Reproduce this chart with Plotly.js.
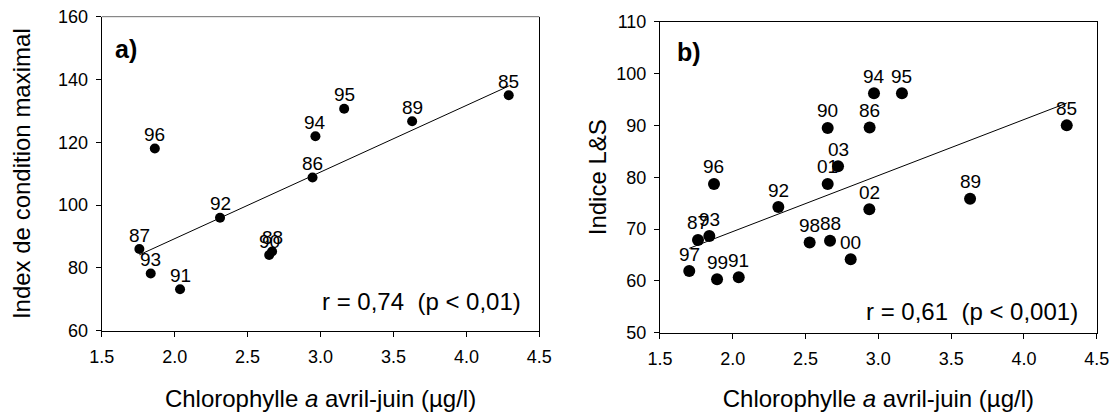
<!DOCTYPE html>
<html>
<head>
<meta charset="utf-8">
<script src="https://cdn.plot.ly/plotly-3.0.1.min.js"></script>
<style>
  html, body { margin: 0; padding: 0; background: #fff; }
  #chart { width: 1119px; height: 412px; }
</style>
</head>
<body>
<div id="chart"></div>
<script>
// Panel a) : maximal condition index against April-June chlorophyll a
const yearsA = ['85', '86', '87', '88', '89', '90', '91', '92', '93', '94', '95', '96'];
const chlA = [4.29, 2.945, 1.758, 2.668, 3.628, 2.648, 2.037, 2.311, 1.836, 2.965, 3.162, 1.864];
const conditionA = [135, 108.8, 86, 85.2, 126.7, 84.1, 73.2, 96, 78.2, 121.9, 130.7, 118];

// Panel b) : L&S index against April-June chlorophyll a
const yearsB = ['85', '86', '87', '88', '89', '90', '91', '92', '93', '94', '95', '96', '97', '98', '99', '00', '01', '02', '03'];
const chlB = [4.294, 2.94, 1.761, 2.668, 3.63, 2.652, 2.041, 2.313, 1.839, 2.97, 3.162, 1.871, 1.701, 2.528, 1.892, 2.81, 2.652, 2.938, 2.723];
const indexB = [90.0, 89.6, 67.9, 67.75, 75.85, 89.5, 60.7, 74.25, 68.65, 96.2, 96.2, 78.7, 61.9, 67.4, 60.3, 64.15, 78.7, 73.8, 82.1];

// Axis ranges and tick values
const xTicks = [1.5, 2.0, 2.5, 3.0, 3.5, 4.0, 4.5];
const yTicksA = [60, 80, 100, 120, 140, 160];
const yTicksB = [50, 60, 70, 80, 90, 100, 110];

const xTitle = 'Chlorophylle <i>a</i> avril-juin (µg/l)';
const yTitleA = 'Index de condition maximal';
const yTitleB = 'Indice L&S';
const statA = 'r = 0,74 \u00a0(p < 0,01)';
const statB = 'r = 0,61 \u00a0(p < 0,001)';

const FONT = 'Liberation Sans, Arial, Helvetica, sans-serif';

// Ordinary least-squares line spanning the observed x range
function fitLine(xs, ys) {
  const n = xs.length;
  const mx = xs.reduce((a, b) => a + b, 0) / n;
  const my = ys.reduce((a, b) => a + b, 0) / n;
  let sxy = 0, sxx = 0;
  for (let i = 0; i < n; i++) {
    sxy += (xs[i] - mx) * (ys[i] - my);
    sxx += (xs[i] - mx) * (xs[i] - mx);
  }
  const slope = sxy / sxx;
  const x0 = Math.min(...xs), x1 = Math.max(...xs);
  return { x: [x0, x1], y: [my + slope * (x0 - mx), my + slope * (x1 - mx)] };
}

const fitA = fitLine(chlA, conditionA);
const fitB = fitLine(chlB, indexB);

const traces = [
  { x: fitA.x, y: fitA.y, xaxis: 'x', yaxis: 'y', mode: 'lines',
    line: { color: 'black', width: 1 }, hoverinfo: 'skip' },
  { x: chlA, y: conditionA, xaxis: 'x', yaxis: 'y', mode: 'markers',
    marker: { color: 'black', size: 10 } },
  { x: fitB.x, y: fitB.y, xaxis: 'x2', yaxis: 'y2', mode: 'lines',
    line: { color: 'black', width: 1 }, hoverinfo: 'skip' },
  { x: chlB, y: indexB, xaxis: 'x2', yaxis: 'y2', mode: 'markers',
    marker: { color: 'black', size: 12 } }
];

// Year labels sitting just above each point
function yearLabels(xs, ys, labels, xr, yr, shift) {
  return labels.map((t, i) => ({
    text: t, x: xs[i], y: ys[i], xref: xr, yref: yr,
    xanchor: 'center', yanchor: 'middle', yshift: shift, showarrow: false,
    font: { family: FONT, size: 19, color: 'black' }
  }));
}

const baseAxis = {
  ticks: 'outside', ticklen: 5, tickwidth: 1, tickcolor: 'black',
  showline: true, linecolor: 'black', linewidth: 1,
  showgrid: false, zeroline: false, automargin: false,
  tickfont: { family: FONT, size: 18, color: 'black' }
};

const layout = {
  width: 1119, height: 412,
  margin: { l: 0, r: 0, t: 0, b: 0 },
  showlegend: false,
  paper_bgcolor: 'white', plot_bgcolor: 'white',
  font: { family: FONT, color: 'black' },
  xaxis: Object.assign({}, baseAxis, {
    domain: [0.0909, 0.4820], anchor: 'y', range: [1.5, 4.5],
    tickvals: xTicks, tickformat: '.1f', ticklabelstandoff: 5,
    title: { text: xTitle, font: { family: FONT, size: 24, color: 'black' }, standoff: 25 }
  }),
  yaxis: Object.assign({}, baseAxis, {
    domain: [0.1973, 0.9595], anchor: 'x', range: [60, 160],
    tickvals: yTicksA, mirror: true, ticklabelstandoff: 4,
    title: { text: yTitleA, font: { family: FONT, size: 24, color: 'black' }, standoff: 20 }
  }),
  xaxis2: Object.assign({}, baseAxis, {
    domain: [0.5898, 0.9801], anchor: 'y2', range: [1.5, 4.5],
    tickvals: xTicks, tickformat: '.1f', mirror: true, ticklabelstandoff: 5,
    title: { text: xTitle, font: { family: FONT, size: 24, color: 'black' }, standoff: 25 }
  }),
  yaxis2: Object.assign({}, baseAxis, {
    domain: [0.1925, 0.9473], anchor: 'x2', range: [50, 110],
    tickvals: yTicksB, mirror: true, ticklabelstandoff: 4,
    title: { text: yTitleB, font: { family: FONT, size: 24, color: 'black' }, standoff: 2 }
  }),
  shapes: [
    // grey upper frame of panel a)
    { type: 'line', xref: 'x domain', yref: 'y domain', x0: 0, x1: 1, y0: 1, y1: 1,
      line: { color: '#6e6e6e', width: 1 } }
  ],
  annotations: [
    { text: '<b>a)</b>', xref: 'x domain', yref: 'y domain', x: 0.026, y: 0.897,
      xanchor: 'left', yanchor: 'middle', showarrow: false,
      font: { family: FONT, size: 25, color: 'black' } },
    { text: '<b>b)</b>', xref: 'x2 domain', yref: 'y2 domain', x: 0.034, y: 0.9035,
      xanchor: 'left', yanchor: 'middle', showarrow: false,
      font: { family: FONT, size: 25, color: 'black' } },
    { text: statA, xref: 'x domain', yref: 'y domain', x: 0.963, y: 0.0946,
      xanchor: 'right', yanchor: 'middle', showarrow: false,
      font: { family: FONT, size: 24, color: 'black' } },
    { text: statB, xref: 'x2 domain', yref: 'y2 domain', x: 0.9618, y: 0.0675,
      xanchor: 'right', yanchor: 'middle', showarrow: false,
      font: { family: FONT, size: 24, color: 'black' } }
  ].concat(
    yearLabels(chlA, conditionA, yearsA, 'x', 'y', 14),
    yearLabels(chlB, indexB, yearsB, 'x2', 'y2', 17)
  )
};

Plotly.newPlot('chart', traces, layout, { staticPlot: true, displayModeBar: false });
</script>
</body>
</html>
